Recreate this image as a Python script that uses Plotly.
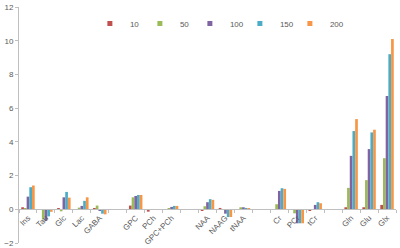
import plotly.graph_objects as go

categories = ["Ins", "Tau", "Glc", "Lac", "GABA", "gap1", "GPC", "PCh", "GPC+PCh", "gap2",
              "NAA", "NAAG", "tNAA", "gap3", "Cr", "PCr", "tCr", "gap4", "Gln", "Glu", "Glx"]
tick_labels = ["Ins", "Tau", "Glc", "Lac", "GABA", "", "GPC", "PCh", "GPC+PCh", "",
               "NAA", "NAAG", "tNAA", "", "Cr", "PCr", "tCr", "", "Gln", "Glu", "Glx"]

s10  = [0.12, -0.03, 0.03, 0.0, 0.06, None, 0.22, -0.14, 0.01, None,
        -0.06, 0.08, 0.0, None, 0.0, -0.04, -0.08, None, 0.12, 0.12, 0.26]
s50  = [0.02, -0.6, -0.12, 0.1, 0.22, None, 0.71, 0.0, 0.06, None,
        0.18, -0.04, 0.12, None, 0.3, -0.24, 0.0, None, 1.27, 1.73, 3.03]
s100 = [0.75, -0.68, 0.71, 0.2, -0.08, None, 0.79, 0.0, 0.14, None,
        0.42, -0.26, 0.12, None, 1.09, -0.83, 0.26, None, 3.17, 3.57, 6.72]
s150 = [1.31, -0.42, 1.03, 0.5, -0.26, None, 0.85, 0.0, 0.2, None,
        0.6, -0.46, 0.08, None, 1.25, -0.83, 0.42, None, 4.64, 4.56, 9.2]
s200 = [1.41, -0.15, 0.69, 0.71, -0.3, None, 0.85, 0.0, 0.2, None,
        0.56, -0.46, 0.04, None, 1.21, -0.83, 0.36, None, 5.35, 4.72, 10.1]

series_names = ["10", "50", "100", "150", "200"]
series_vals = [s10, s50, s100, s150, s200]
colors = ["#C0504D", "#9BBB59", "#8064A2", "#4BACC6", "#F79646"]

y_ticks = [-2, 0, 2, 4, 6, 8, 10, 12]

fig = go.Figure()
for i, (name, vals, c) in enumerate(zip(series_names, series_vals, colors)):
    fig.add_trace(go.Bar(x=categories, y=vals, name=name, marker=dict(color=c, line=dict(width=0)),
                         showlegend=False))
    extra = dict(legendwidth=25) if i == len(series_names) - 1 else {}
    fig.add_trace(go.Scatter(x=[None], y=[None], mode="markers", name=name,
                             marker=dict(symbol="square", size=5, color=c), showlegend=True,
                             **extra))

font = dict(family="Liberation Sans, Arial, sans-serif", size=8, color="#595959")

fig.update_layout(
    width=400, height=248,
    margin=dict(l=19, r=4, t=7, b=5),
    paper_bgcolor="white", plot_bgcolor="white",
    barmode="group", bargap=0.25, bargroupgap=0,
    font=font,
    legend=dict(orientation="h", x=0.188, y=0.93, xanchor="left", yanchor="middle",
                font=font, itemwidth=30, entrywidth=5, entrywidthmode="pixels",
                bgcolor="rgba(0,0,0,0)", tracegroupgap=0),
    xaxis=dict(type="category", categoryorder="array", categoryarray=categories,
               tickmode="array", tickvals=categories, ticktext=tick_labels,
               anchor="free", position=2 / 14,
               showline=True, linecolor="#BFBFBF", linewidth=1,
               ticks="outside", ticklen=3, tickcolor="#BFBFBF", tickson="boundaries",
               tickangle=-45, tickfont=font, showgrid=False, automargin=False,
               range=[-0.5, 20.5]),
    yaxis=dict(range=[-2, 12], tickvals=y_ticks, showgrid=False, zeroline=False,
               showline=True, linecolor="#BFBFBF", linewidth=1,
               ticks="outside", ticklen=3, tickcolor="#BFBFBF",
               tickfont=font, automargin=False, domain=[0, 1]),
)

fig.write_html("out.html", config={"displayModeBar": False},
               post_script="document.body.style.margin='0';document.body.style.padding='0';")
